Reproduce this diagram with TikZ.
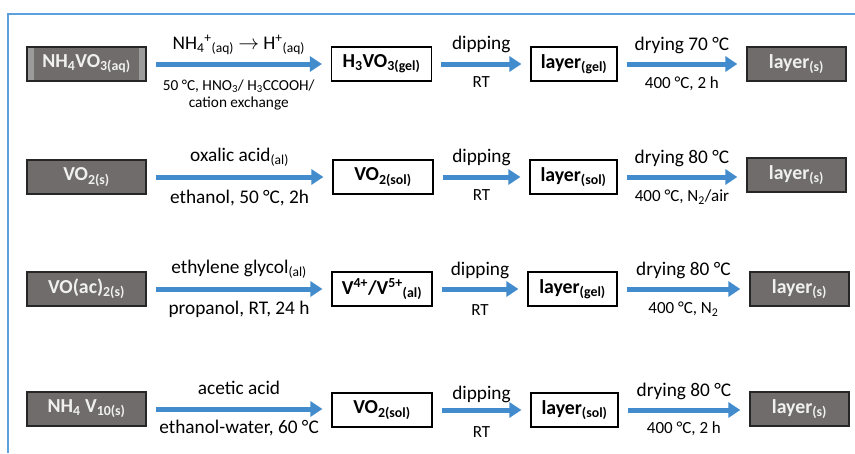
\documentclass[tikz,border=0pt]{standalone}
\usepackage{fontspec}
\setmainfont{Carlito}
\usetikzlibrary{arrows.meta}
\definecolor{fr}{RGB}{91,161,222}
\definecolor{ab}{RGB}{66,139,204}
\definecolor{gb}{RGB}{113,108,108}
\definecolor{gs}{RGB}{155,155,155}
\definecolor{gt}{RGB}{240,240,240}
\tikzset{
 base/.style={minimum height=34pt, inner sep=0pt, font=\fontsize{19.8}{21}\selectfont\bfseries},
 wbox/.style={base, draw=black, line width=1.1pt, fill=white},
 gbox/.style={base, draw=black!85, line width=1.3pt, fill=gb, text=gt},
 sides/.style={path picture={
   \fill[gs] (path picture bounding box.north west) rectangle ([xshift=7pt]path picture bounding box.south west);
   \fill[gs] (path picture bounding box.north east) rectangle ([xshift=-7pt]path picture bounding box.south east);}},
 arr/.style={draw=ab, line width=5pt, -{Triangle[length=12pt,width=15pt]}, shorten <=9pt, shorten >=9pt},
 lab/.style={font=\fontsize{19.3}{21}\selectfont, inner sep=0pt},
 sml/.style={font=\fontsize{17}{19}\selectfont, inner sep=0pt, align=center},
}
\begin{document}
\begin{tikzpicture}[x=1pt,y=-1pt]
\useasboundingbox (0,0) rectangle (855,453);
% frame
\coordinate (fa) at (7,14);
\coordinate (fb) at (855,14);
\coordinate (fc) at (8,453);
\draw[fr, line width=2pt] (fb) -- (fa -| fc) -- (fc);

% ---------- row 1
\node[gbox, sides, minimum width=119pt] (a1) at (86.5,64) {NH\textsubscript{4}VO\textsubscript{3(aq)}};
\node[wbox, minimum width=100pt] (b1) at (381.5,64) {H\textsubscript{3}VO\textsubscript{3(gel)}};
\node[wbox, minimum width=86pt] (c1) at (574,64) {layer\textsubscript{(gel)}};
\node[gbox, minimum width=99pt] (d1) at (796.5,64) {layer\textsubscript{(s)}};
\draw[arr] (a1) -- (b1)
  node[lab, midway, yshift=19pt] {NH\textsubscript{4}\textsuperscript{+}\textsubscript{(aq)} $\rightarrow$ H\textsuperscript{+}\textsubscript{(aq)}}
  node[sml, midway, yshift=-31pt, font=\fontsize{15.3}{17}\selectfont] {50 °C, HNO\textsubscript{3}/ H\textsubscript{3}CCOOH/\\cation exchange};
\draw[arr] (b1) -- (c1)
  node[lab, midway, yshift=20pt] {dipping}
  node[sml, midway, yshift=-18pt] {RT};
\draw[arr] (c1) -- (d1)
  node[lab, midway, yshift=19pt] {drying 70 °C}
  node[sml, midway, yshift=-20pt] {400 °C, 2 h};

% ---------- row 2
\node[gbox, minimum width=119pt] (a2) at (86.5,177) {VO\textsubscript{2(s)}};
\node[wbox, minimum width=100pt] (b2) at (383,177) {VO\textsubscript{2(sol)}};
\node[wbox, minimum width=87pt] (c2) at (573.5,177) {layer\textsubscript{(sol)}};
\node[gbox, minimum width=99pt] (d2) at (796.5,175) {layer\textsubscript{(s)}};
\draw[arr] (a2) -- (b2)
  node[lab, midway, yshift=20pt] {oxalic acid\textsubscript{(al)}}
  node[lab, midway, yshift=-21pt] {ethanol, 50 °C, 2h};
\draw[arr] (b2) -- (c2)
  node[lab, midway, yshift=20pt] {dipping}
  node[sml, midway, yshift=-18pt] {RT};
\draw[arr] (c2) -- (c2 -| d2.west)
  node[lab, midway, yshift=19pt] {drying 80 °C}
  node[sml, midway, yshift=-20pt] {400 °C, N\textsubscript{2}/air};

% ---------- row 3
\node[gbox, minimum width=119pt] (a3) at (86.5,289) {VO(ac)\textsubscript{2(s)}};
\node[wbox, minimum width=100pt] (b3) at (382,289) {V\textsuperscript{4+}/V\textsuperscript{5+}\textsubscript{(al)}};
\node[wbox, minimum width=89pt] (c3) at (572.5,289) {layer\textsubscript{(gel)}};
\node[gbox, minimum width=99pt] (d3) at (799.5,289) {layer\textsubscript{(s)}};
\draw[arr] (a3) -- (b3)
  node[lab, midway, yshift=20pt] {ethylene glycol\textsubscript{(al)}}
  node[lab, midway, yshift=-20pt] {propanol, RT, 24 h};
\draw[arr] (b3) -- (c3)
  node[lab, midway, yshift=19pt] {dipping}
  node[sml, midway, yshift=-21pt] {RT};
\draw[arr] (c3) -- (d3)
  node[lab, midway, yshift=19pt] {drying 80 °C}
  node[sml, midway, yshift=-20pt] {400 °C, N\textsubscript{2}};

% ---------- row 4
\node[gbox, minimum width=119pt] (a4) at (86.5,409) {NH\textsubscript{4} V\textsubscript{10(s)}};
\node[wbox, minimum width=100pt] (b4) at (382,410) {VO\textsubscript{2(sol)}};
\node[wbox, minimum width=87pt] (c4) at (574.5,410) {layer\textsubscript{(sol)}};
\node[gbox, minimum width=99pt] (d4) at (799.5,409) {layer\textsubscript{(s)}};
\draw[arr] (a4) -- (a4 -| b4.west)
  node[lab, midway, yshift=21pt] {acetic acid}
  node[lab, midway, yshift=-19pt] {ethanol-water, 60 °C};
\draw[arr] (b4) -- (c4)
  node[lab, midway, yshift=16pt] {dipping}
  node[sml, midway, yshift=-22pt] {RT};
\draw[arr] (c4) -- (c4 -| d4.west)
  node[lab, midway, yshift=19pt] {drying 80 °C}
  node[sml, midway, yshift=-19pt] {400 °C, 2 h};
\end{tikzpicture}
\end{document}
